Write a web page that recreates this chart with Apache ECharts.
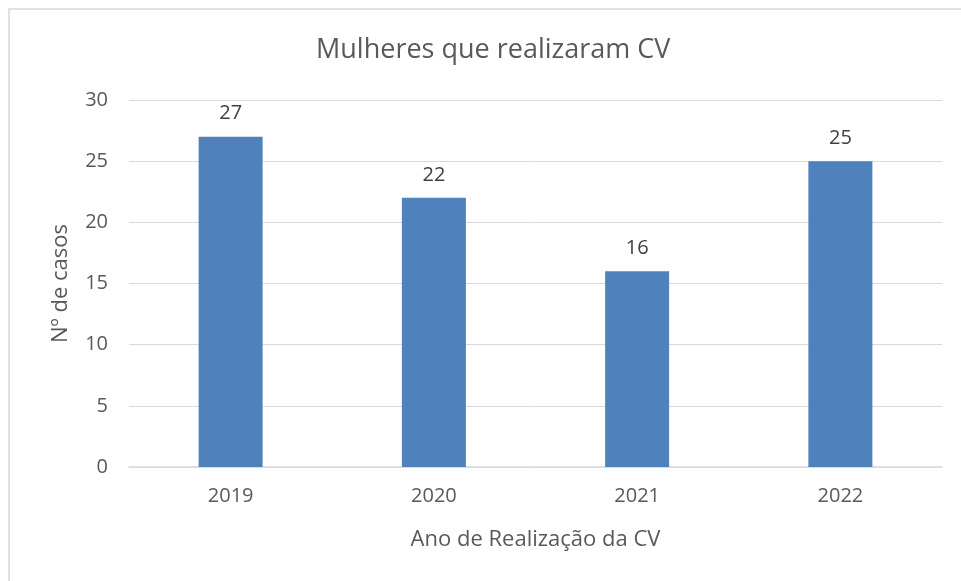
<!DOCTYPE html>
<html>
<head>
<meta charset="utf-8">
<script src="https://cdn.jsdelivr.net/npm/echarts@6/dist/echarts.min.js"></script>
<style>
html,body{margin:0;padding:0;background:#fff;}
#chart{width:961px;height:581px;}
</style>
</head>
<body>
<div id="chart"></div>
<script>
// dados do gráfico
var anos = ['2019', '2020', '2021', '2022'];
var casos = [27, 22, 16, 25];
var yTicks = [0, 5, 10, 15, 20, 25, 30];

var fonte = '"Open Sans", "Noto Sans", sans-serif';
var myChart = echarts.init(document.getElementById('chart'));
var option = {
    backgroundColor: '#fff',
    textStyle: { fontFamily: fonte },
    graphic: [{
        type: 'rect',
        shape: { x: 9, y: 9, width: 1000, height: 1000 },
        style: { fill: 'none', stroke: '#d9d9d9', lineWidth: 1.5 },
        silent: true
    }],
    title: {
        text: 'Mulheres que realizaram CV',
        left: 311,
        top: 32,
        textStyle: { fontFamily: fonte, fontSize: 27, fontWeight: 'normal', color: '#595959' }
    },
    grid: { left: 129, right: 19, top: 100, bottom: 114, containLabel: false },
    xAxis: {
        type: 'category',
        data: anos,
        name: 'Ano de Realização da CV',
        nameLocation: 'middle',
        nameGap: 62,
        nameTextStyle: { fontFamily: fonte, fontSize: 22, color: '#595959' },
        axisLine: { lineStyle: { color: '#d9d9d9', width: 1.5 } },
        axisTick: { show: false },
        axisLabel: { fontFamily: fonte, fontSize: 20, color: '#595959', margin: 19 }
    },
    yAxis: {
        type: 'value',
        min: yTicks[0],
        max: yTicks[yTicks.length - 1],
        interval: 5,
        name: 'Nº de casos',
        nameLocation: 'middle',
        nameGap: 57,
        nameTextStyle: { fontFamily: fonte, fontSize: 22, color: '#595959' },
        axisLine: { show: false },
        axisTick: { show: false },
        splitLine: { lineStyle: { color: '#d9d9d9', width: 1 } },
        axisLabel: { fontFamily: fonte, fontSize: 20, color: '#595959', margin: 21 }
    },
    series: [{
        type: 'bar',
        data: casos,
        barWidth: 64,
        itemStyle: { color: '#4f81bd' },
        label: {
            show: true,
            position: 'top',
            distance: 13,
            fontFamily: fonte,
            fontSize: 20,
            color: '#404040'
        }
    }]
};
myChart.setOption(option);
</script>
</body>
</html>
